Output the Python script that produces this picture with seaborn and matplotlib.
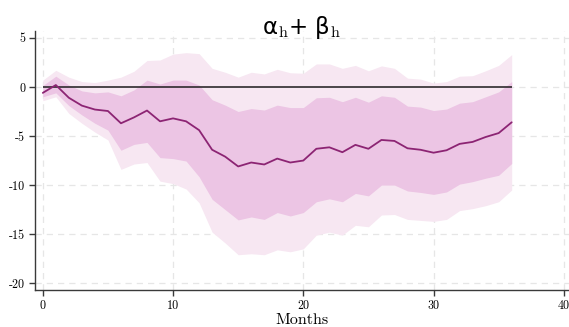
import numpy as np
import pandas as pd
import seaborn as sns
import matplotlib.pyplot as plt

# --- dane ---
months = list(range(37))
coef = [-0.6, 0.2, -1.1, -1.9, -2.3, -2.45, -3.7, -3.1, -2.4, -3.5, -3.2, -3.5, -4.4,
        -6.4, -7.1, -8.1, -7.7, -7.9, -7.3, -7.7, -7.5, -6.3, -6.15, -6.65, -5.9,
        -6.3, -5.4, -5.5, -6.25, -6.4, -6.7, -6.45, -5.8, -5.6, -5.1, -4.7, -3.6]
inner_hi = [0.15, 1.1, 0.2, -0.4, -0.6, -0.5, -0.9, -0.3, 0.7, 0.3, 0.7, 0.7, 0.2,
            -1.3, -1.85, -2.5, -2.2, -2.35, -1.85, -2.1, -2.1, -1.1, -1.05, -1.5, -1.05,
            -1.55, -0.9, -1.05, -1.95, -2.05, -2.4, -2.25, -1.65, -1.5, -1.0, -0.5, 0.55]
inner_lo = [-1.0, -0.6, -1.9, -2.85, -3.7, -4.4, -6.45, -5.85, -5.65, -7.2, -7.3, -7.55, -9.15,
            -11.45, -12.5, -13.55, -13.25, -13.5, -12.8, -13.15, -12.8, -11.7, -11.4, -11.7, -10.85,
            -11.1, -10.0, -10.0, -10.6, -10.75, -10.95, -10.7, -9.9, -9.65, -9.3, -9.0, -7.8]
outer_hi = [0.7, 1.7, 1.0, 0.55, 0.45, 0.7, 1.0, 1.6, 2.7, 2.75, 3.35, 3.5, 3.4,
            1.9, 1.5, 1.0, 1.5, 1.33, 1.8, 1.45, 1.4, 2.35, 2.35, 1.9, 2.2,
            1.65, 2.15, 1.9, 0.9, 0.8, 0.4, 0.55, 1.1, 1.15, 1.65, 2.2, 3.3]
outer_lo = [-1.4, -1.0, -2.7, -3.7, -4.6, -5.4, -8.4, -7.85, -7.7, -9.6, -9.85, -10.4, -11.8,
            -14.8, -15.9, -17.1, -17.0, -17.1, -16.6, -16.8, -16.5, -15.1, -14.8, -15.1, -14.1,
            -14.25, -13.05, -13.0, -13.5, -13.6, -13.7, -13.5, -12.6, -12.4, -12.1, -11.7, -10.5]

df = pd.DataFrame({"month": months, "coef": coef,
                   "inner_hi": inner_hi, "inner_lo": inner_lo,
                   "outer_hi": outer_hi, "outer_lo": outer_lo})

# --- styl ---
sns.set_theme(style="ticks")
plt.rcParams["font.family"] = ["cmr10", "DejaVu Serif"]
plt.rcParams["axes.unicode_minus"] = False
plt.rcParams["mathtext.fontset"] = "cm"

fig = plt.figure(figsize=(5.69, 3.27), dpi=100)
ax = fig.add_axes([0.0615, 0.113, 0.9385, 0.792])

ax.fill_between(df["month"], df["outer_lo"], df["outer_hi"], color="#f7e7f2", lw=0, zorder=1)
ax.fill_between(df["month"], df["inner_lo"], df["inner_hi"], color="#ecc5e4", lw=0, zorder=2)
ax.hlines(0, 0, 36, color="#2e2a2d", lw=1.2, zorder=3)
sns.lineplot(data=df, x="month", y="coef", color="#8c2473", lw=1.3, ax=ax, zorder=4)

ax.set_xlim(-0.6, 40.4)
ax.set_ylim(-20.7, 5.7)
ax.set_xticks([0, 10, 20, 30, 40])
ax.set_yticks([5, 0, -5, -10, -15, -20])
ax.grid(True, ls=(0, (5, 4)), color="#e6e6e6", lw=0.9)
ax.set_axisbelow(True)

for s in ["top", "right"]:
    ax.spines[s].set_visible(False)
for s in ["left", "bottom"]:
    ax.spines[s].set_color("#3a3a3a")
    ax.spines[s].set_linewidth(1.0)
ax.tick_params(axis="both", length=4, width=1, color="#3a3a3a", labelsize=8.7,
               labelcolor="black", pad=3)

ax.set_xlabel("Months", fontsize=11.5, labelpad=1, color="black")
ax.set_ylabel("")
ax.set_title(r"α$_\mathrm{h}$+ β$_\mathrm{h}$", fontsize=16.5, family="DejaVu Sans",
             color="black", y=0.99, pad=0)

fig.savefig("out.png", dpi=100)
